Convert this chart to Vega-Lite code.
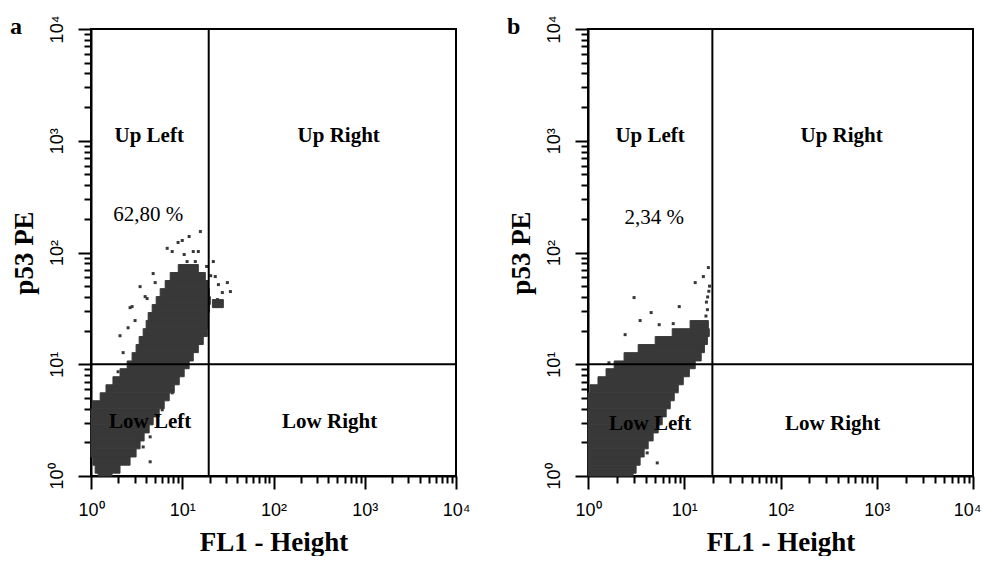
{
  "$schema": "https://vega.github.io/schema/vega-lite/v6.json",
  "padding": {"left": 8, "top": 14, "right": 0, "bottom": 0},
  "spacing": 34,
  "background": "white",
  "config": {
    "view": {"stroke": "black", "strokeWidth": 2},
    "axis": {
      "domainColor": "black", "domainWidth": 2, "tickColor": "black", "tickWidth": 2,
      "grid": false, "labelFont": "Liberation Sans", "labelFontSize": 18, "labelColor": "black",
      "titleFont": "Liberation Serif", "titleFontSize": 27, "titleFontWeight": "bold", "titleColor": "black",
      "labelFlush": false, "labelOverlap": false
    },
    "title": {"font": "Liberation Serif", "fontSize": 24, "fontWeight": "bold", "color": "black", "anchor": "start", "frame": "bounds", "offset": -24}
  },
  "datasets": {
    "a_cloud": [
      {"x": 9.04, "xe": 15.0, "y": 66.2, "ye": 78.0},
      {"x": 7.38, "xe": 17.9, "y": 56.1, "ye": 66.2},
      {"x": 6.50, "xe": 19.3, "y": 47.5, "ye": 56.1},
      {"x": 5.73, "xe": 19.8, "y": 40.3, "ye": 47.5},
      {"x": 5.18, "xe": 20.3, "y": 34.2, "ye": 40.3},
      {"x": 4.68, "xe": 19.8, "y": 29.0, "ye": 34.2},
      {"x": 4.23, "xe": 19.3, "y": 24.6, "ye": 29.0},
      {"x": 4.02, "xe": 19.3, "y": 20.8, "ye": 24.6},
      {"x": 3.73, "xe": 18.8, "y": 17.7, "ye": 20.8},
      {"x": 3.37, "xe": 17.0, "y": 15.0, "ye": 17.7},
      {"x": 3.12, "xe": 15.0, "y": 12.7, "ye": 15.0},
      {"x": 2.82, "xe": 13.2, "y": 10.7, "ye": 12.7},
      {"x": 2.49, "xe": 11.9, "y": 9.12, "ye": 10.7},
      {"x": 2.08, "xe": 10.5, "y": 7.73, "ye": 9.12},
      {"x": 1.74, "xe": 9.27, "y": 6.55, "ye": 7.73},
      {"x": 1.46, "xe": 8.17, "y": 5.55, "ye": 6.55},
      {"x": 1.26, "xe": 7.20, "y": 4.71, "ye": 5.55},
      {"x": 1.03, "xe": 6.34, "y": 3.99, "ye": 4.71},
      {"x": 1.0, "xe": 5.59, "y": 3.38, "ye": 3.99},
      {"x": 1.0, "xe": 4.80, "y": 2.87, "ye": 3.38},
      {"x": 1.0, "xe": 4.34, "y": 2.43, "ye": 2.87},
      {"x": 1.0, "xe": 3.82, "y": 2.06, "ye": 2.43},
      {"x": 1.0, "xe": 3.45, "y": 1.75, "ye": 2.06},
      {"x": 1.0, "xe": 3.12, "y": 1.48, "ye": 1.75},
      {"x": 1.05, "xe": 2.68, "y": 1.25, "ye": 1.48},
      {"x": 1.11, "xe": 2.08, "y": 1.06, "ye": 1.25},
      {"x": 1.2, "xe": 1.7, "y": 1.0, "ye": 1.06},
      {"x": 21.4, "xe": 28.2, "y": 32.1, "ye": 37.9}
    ],
    "a_dots": [
      {"x": 15.8, "y": 154}, {"x": 11.9, "y": 139}, {"x": 10.0, "y": 128}, {"x": 9.0, "y": 123},
      {"x": 6.84, "y": 109}, {"x": 7.76, "y": 102}, {"x": 10.5, "y": 96}, {"x": 13.2, "y": 102},
      {"x": 15.0, "y": 102}, {"x": 11.3, "y": 83}, {"x": 13.9, "y": 83}, {"x": 21.9, "y": 83},
      {"x": 4.80, "y": 64.8}, {"x": 5.05, "y": 53.8}, {"x": 3.45, "y": 49.5}, {"x": 3.92, "y": 40.3},
      {"x": 2.82, "y": 32.8}, {"x": 2.55, "y": 21.2}, {"x": 3.04, "y": 24.6}, {"x": 2.08, "y": 18.0},
      {"x": 4.12, "y": 38.7}, {"x": 23.0, "y": 60.9}, {"x": 24.9, "y": 51.6}, {"x": 31.2, "y": 53.8},
      {"x": 33.7, "y": 44.7}, {"x": 27.5, "y": 43.8}, {"x": 24.3, "y": 37.9}, {"x": 4.45, "y": 1.34},
      {"x": 2.25, "y": 12.7}, {"x": 1.98, "y": 8.57}, {"x": 7.76, "y": 5.55}, {"x": 6.03, "y": 3.91},
      {"x": 4.45, "y": 2.24}, {"x": 3.73, "y": 1.82}, {"x": 2.68, "y": 32.1}, {"x": 18.5, "y": 75},
      {"x": 20.5, "y": 62}
    ],
    "a_text": [
      {"x": 4.34, "y": 1097, "label": "Up Left"},
      {"x": 518, "y": 1097, "label": "Up Right"},
      {"x": 4.45, "y": 3.05, "label": "Low Left"},
      {"x": 412, "y": 3.05, "label": "Low Right"}
    ],
    "a_pct": [{"x": 4.23, "y": 215, "label": "62,80 %"}],
    "b_cloud": [
      {"x": 11.5, "xe": 17.8, "y": 20.8, "ye": 24.6},
      {"x": 7.50, "xe": 18.2, "y": 17.7, "ye": 20.8},
      {"x": 4.99, "xe": 17.4, "y": 15.0, "ye": 17.7},
      {"x": 3.32, "xe": 16.2, "y": 12.7, "ye": 15.0},
      {"x": 2.37, "xe": 15.0, "y": 10.7, "ye": 12.7},
      {"x": 1.87, "xe": 13.0, "y": 9.12, "ye": 10.7},
      {"x": 1.54, "xe": 11.3, "y": 7.73, "ye": 9.12},
      {"x": 1.27, "xe": 9.77, "y": 6.55, "ye": 7.73},
      {"x": 1.05, "xe": 8.66, "y": 5.55, "ye": 6.55},
      {"x": 1.0, "xe": 7.87, "y": 4.71, "ye": 5.55},
      {"x": 1.0, "xe": 7.15, "y": 3.99, "ye": 4.71},
      {"x": 1.0, "xe": 6.49, "y": 3.38, "ye": 3.99},
      {"x": 1.0, "xe": 5.90, "y": 2.87, "ye": 3.38},
      {"x": 1.0, "xe": 5.36, "y": 2.43, "ye": 2.87},
      {"x": 1.0, "xe": 4.75, "y": 2.06, "ye": 2.43},
      {"x": 1.0, "xe": 4.22, "y": 1.75, "ye": 2.06},
      {"x": 1.0, "xe": 3.83, "y": 1.48, "ye": 1.75},
      {"x": 1.0, "xe": 3.48, "y": 1.25, "ye": 1.48},
      {"x": 1.0, "xe": 3.16, "y": 1.06, "ye": 1.25},
      {"x": 1.0, "xe": 2.94, "y": 1.0, "ye": 1.06}
    ],
    "b_dots": [
      {"x": 15.8, "y": 60.9}, {"x": 13.0, "y": 53.8}, {"x": 3.01, "y": 39.5}, {"x": 4.53, "y": 29.0},
      {"x": 8.87, "y": 32.8}, {"x": 3.48, "y": 24.6}, {"x": 5.49, "y": 22.6}, {"x": 2.43, "y": 18.4},
      {"x": 7.68, "y": 23.1}, {"x": 17.8, "y": 73.3}, {"x": 17.4, "y": 30.8}, {"x": 1.65, "y": 10.3},
      {"x": 5.24, "y": 1.31}, {"x": 4.12, "y": 1.61}, {"x": 17.5, "y": 40}, {"x": 18.0, "y": 45},
      {"x": 17.0, "y": 36}, {"x": 18.3, "y": 50}, {"x": 16.8, "y": 27}
    ],
    "b_text": [
      {"x": 4.42, "y": 1097, "label": "Up Left"},
      {"x": 432, "y": 1097, "label": "Up Right"},
      {"x": 4.42, "y": 2.93, "label": "Low Left"},
      {"x": 348, "y": 2.93, "label": "Low Right"}
    ],
    "b_pct": [{"x": 4.87, "y": 202, "label": "2,34 %"}],
    "vline_a": [{"x": 19.5}],
    "vline_b": [{"x": 19.6}],
    "hline": [{"y": 10}]
  },
  "hconcat": [
    {
      "width": 365, "height": 447,
      "title": "a",
      "layer": [
        {
          "data": {"name": "a_cloud"},
          "mark": {"type": "rect", "color": "#383838", "stroke": "#383838", "strokeWidth": 1},
          "encoding": {
            "x": {"field": "x", "type": "quantitative", "title": "FL1 - Height",
              "scale": {"type": "log", "domain": [1, 10000], "nice": false},
              "axis": {"values": [1,2,3,4,5,6,7,8,9,10,20,30,40,50,60,70,80,90,100,200,300,400,500,600,700,800,900,1000,2000,3000,4000,5000,6000,7000,8000,9000,10000],
                "labelExpr": "datum.value == 1 ? '10⁰' : datum.value == 10 ? '10¹' : datum.value == 100 ? '10²' : datum.value == 1000 ? '10³' : datum.value == 10000 ? '10⁴' : ''",
                "tickSize": {"condition": {"test": "datum.value == 1 || datum.value == 10 || datum.value == 100 || datum.value == 1000 || datum.value == 10000", "value": 13}, "value": 7},
                "labelPadding": 12, "titlePadding": 10}},
            "x2": {"field": "xe"},
            "y": {"field": "y", "type": "quantitative", "title": "p53 PE",
              "scale": {"type": "log", "domain": [1, 10000], "nice": false},
              "axis": {"values": [1,2,3,4,5,6,7,8,9,10,20,30,40,50,60,70,80,90,100,200,300,400,500,600,700,800,900,1000,2000,3000,4000,5000,6000,7000,8000,9000,10000],
                "labelExpr": "datum.value == 1 ? '10⁰' : datum.value == 10 ? '10¹' : datum.value == 100 ? '10²' : datum.value == 1000 ? '10³' : datum.value == 10000 ? '10⁴' : ''",
                "tickSize": {"condition": {"test": "datum.value == 1 || datum.value == 10 || datum.value == 100 || datum.value == 1000 || datum.value == 10000", "value": 13}, "value": 7},
                "labelAngle": -90, "labelPadding": 12, "titlePadding": 10}},
            "y2": {"field": "ye"}
          }
        },
        {
          "data": {"name": "a_dots"},
          "mark": {"type": "square", "size": 9, "color": "#383838", "opacity": 1},
          "encoding": {
            "x": {"field": "x", "type": "quantitative", "title": "FL1 - Height"},
            "y": {"field": "y", "type": "quantitative", "title": "p53 PE"}
          }
        },
        {
          "data": {"name": "vline_a"},
          "mark": {"type": "rule", "color": "black", "strokeWidth": 2},
          "encoding": {"x": {"field": "x", "type": "quantitative", "title": "FL1 - Height"}}
        },
        {
          "data": {"name": "hline"},
          "mark": {"type": "rule", "color": "black", "strokeWidth": 2},
          "encoding": {"y": {"field": "y", "type": "quantitative", "title": "p53 PE"}}
        },
        {
          "data": {"name": "a_text"},
          "mark": {"type": "text", "font": "Liberation Serif", "fontSize": 21, "fontWeight": "bold", "color": "black"},
          "encoding": {
            "x": {"field": "x", "type": "quantitative", "title": "FL1 - Height"},
            "y": {"field": "y", "type": "quantitative", "title": "p53 PE"},
            "text": {"field": "label"}
          }
        },
        {
          "data": {"name": "a_pct"},
          "mark": {"type": "text", "font": "Liberation Serif", "fontSize": 21, "color": "black"},
          "encoding": {
            "x": {"field": "x", "type": "quantitative", "title": "FL1 - Height"},
            "y": {"field": "y", "type": "quantitative", "title": "p53 PE"},
            "text": {"field": "label"}
          }
        }
      ]
    },
    {
      "width": 385, "height": 447,
      "title": "b",
      "layer": [
        {
          "data": {"name": "b_cloud"},
          "mark": {"type": "rect", "color": "#383838", "stroke": "#383838", "strokeWidth": 1},
          "encoding": {
            "x": {"field": "x", "type": "quantitative", "title": "FL1 - Height",
              "scale": {"type": "log", "domain": [1, 10000], "nice": false},
              "axis": {"values": [1,2,3,4,5,6,7,8,9,10,20,30,40,50,60,70,80,90,100,200,300,400,500,600,700,800,900,1000,2000,3000,4000,5000,6000,7000,8000,9000,10000],
                "labelExpr": "datum.value == 1 ? '10⁰' : datum.value == 10 ? '10¹' : datum.value == 100 ? '10²' : datum.value == 1000 ? '10³' : datum.value == 10000 ? '10⁴' : ''",
                "tickSize": {"condition": {"test": "datum.value == 1 || datum.value == 10 || datum.value == 100 || datum.value == 1000 || datum.value == 10000", "value": 13}, "value": 7},
                "labelOffset": {"condition": {"test": "datum.value == 10000", "value": -6}, "value": 0},
                "labelPadding": 12, "titlePadding": 10}},
            "x2": {"field": "xe"},
            "y": {"field": "y", "type": "quantitative", "title": "p53 PE",
              "scale": {"type": "log", "domain": [1, 10000], "nice": false},
              "axis": {"values": [1,2,3,4,5,6,7,8,9,10,20,30,40,50,60,70,80,90,100,200,300,400,500,600,700,800,900,1000,2000,3000,4000,5000,6000,7000,8000,9000,10000],
                "labelExpr": "datum.value == 1 ? '10⁰' : datum.value == 10 ? '10¹' : datum.value == 100 ? '10²' : datum.value == 1000 ? '10³' : datum.value == 10000 ? '10⁴' : ''",
                "tickSize": {"condition": {"test": "datum.value == 1 || datum.value == 10 || datum.value == 100 || datum.value == 1000 || datum.value == 10000", "value": 13}, "value": 7},
                "labelAngle": -90, "labelPadding": 12, "titlePadding": 10}},
            "y2": {"field": "ye"}
          }
        },
        {
          "data": {"name": "b_dots"},
          "mark": {"type": "square", "size": 9, "color": "#383838", "opacity": 1},
          "encoding": {
            "x": {"field": "x", "type": "quantitative", "title": "FL1 - Height"},
            "y": {"field": "y", "type": "quantitative", "title": "p53 PE"}
          }
        },
        {
          "data": {"name": "vline_b"},
          "mark": {"type": "rule", "color": "black", "strokeWidth": 2},
          "encoding": {"x": {"field": "x", "type": "quantitative", "title": "FL1 - Height"}}
        },
        {
          "data": {"name": "hline"},
          "mark": {"type": "rule", "color": "black", "strokeWidth": 2},
          "encoding": {"y": {"field": "y", "type": "quantitative", "title": "p53 PE"}}
        },
        {
          "data": {"name": "b_text"},
          "mark": {"type": "text", "font": "Liberation Serif", "fontSize": 21, "fontWeight": "bold", "color": "black"},
          "encoding": {
            "x": {"field": "x", "type": "quantitative", "title": "FL1 - Height"},
            "y": {"field": "y", "type": "quantitative", "title": "p53 PE"},
            "text": {"field": "label"}
          }
        },
        {
          "data": {"name": "b_pct"},
          "mark": {"type": "text", "font": "Liberation Serif", "fontSize": 21, "color": "black"},
          "encoding": {
            "x": {"field": "x", "type": "quantitative", "title": "FL1 - Height"},
            "y": {"field": "y", "type": "quantitative", "title": "p53 PE"},
            "text": {"field": "label"}
          }
        }
      ]
    }
  ]
}
